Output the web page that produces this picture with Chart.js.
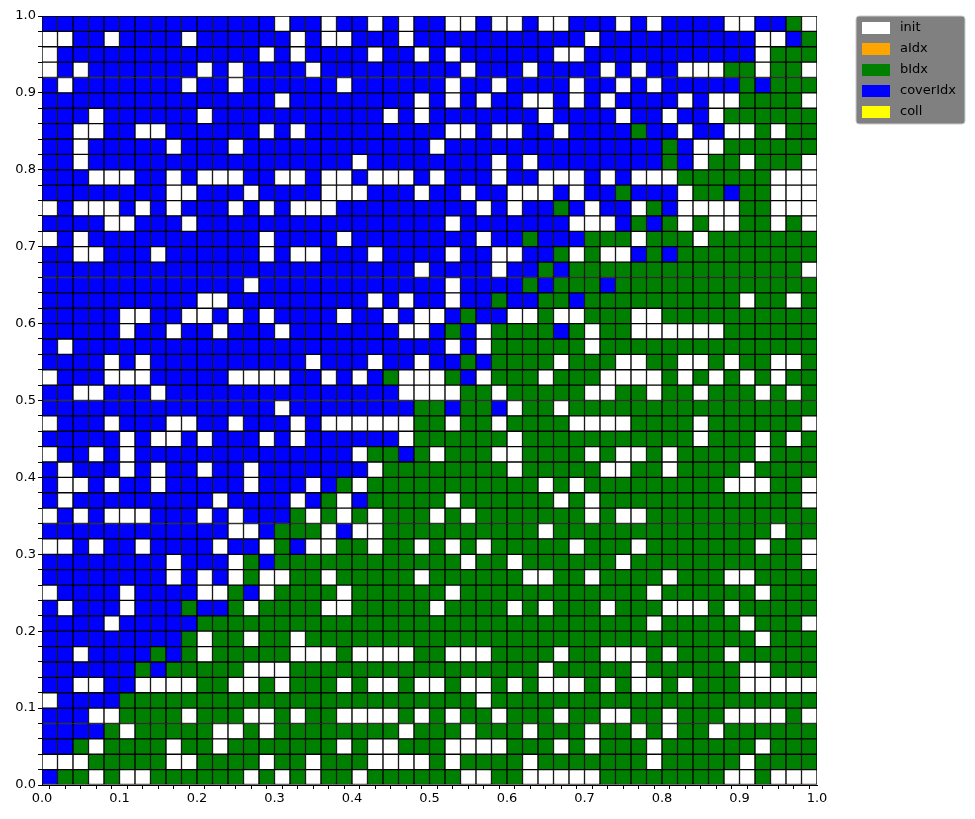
<!DOCTYPE html>
<html><head><meta charset="utf-8">
<script src="https://cdn.jsdelivr.net/npm/chart.js@4"></script>
<style>html,body{margin:0;padding:0;background:#fff}#wrap{width:975px;height:819px}</style>
</head><body><div id="wrap"><canvas id="c" width="975" height="819"></canvas></div>
<script>
// grid rows from top (y=1.0) to bottom (y=0.0); '.'=init, 'b'=coverIdx, 'g'=bIdx
const rows = [
"bbbbbbbbbbbbb"+"bb.bb.bb.b.bb"+"..b..b..bbb."+"b.bbbb..bbg.",
"..bb.bbbb.bbb"+"bbb.b..bbb.bb"+"bbbbbbbbb.bb"+"bbbbbbbb..bg",
".bbbbbbbbbbbb"+"b.b.bbbb.bb.b"+".bbbbbb..bbb"+"bbbbbbbb.ggg",
".b.bbbbbbb.b."+"bbbb.bbbbbbbb"+"b.bbb.bbbb.b"+".bb...gg.gg.",
"b.bbbbbbb.bb."+"bbbbbb.bbbbbb"+".bb.bbbb.bb."+"b.bbbbbgbggg",
"bbbbbbbbbbbbb"+"bb.bbbbbbbb.b"+".b.bb..b.b.b"+"bbb.b..gggg.",
"bbb.bbbbbb.bb"+"bbbbbbbbb.b.b"+"bbbbbb.bbbb."+"bb.bb.gggggg",
"bb..bb..bbbbb"+"b.b.bbbbbbbbb"+"..b..bb.bbbb"+"gbb.bb..g.gg",
"bb.bbbbb.bbb."+"bbbbbbbbbbbb."+"bbbbbbbbbbbb"+"bbgb..gggggg",
"bb.bbbbbbbbbb"+"bbbbbbb.bbbbb"+"bbb.b.bbbbbb"+"bbgb.gg.ggg.",
"bbb...bb.b..."+"bb..b..b...b."+"bbb.bb...b.b"+"...gggggg...",
"bbbbbbbb..bbb"+".bbbb...bbb.b"+"b.bb...b.bbg"+"bbb.ggbgg...",
".b...b.b.bbb."+"b.b...bbbbbbb"+"bb.b.bbgb.bb"+".gb....gg...",
"bbbb..bbb.bbb"+"bbbbbbbbbbbbb"+".bbbbbbb...b"+"gbg.g..gg.g.",
".b.bbbbbbbbbb"+"b.bbbb.bbbbbb"+"bb.bbgbbbggg"+".ggg.ggggggg",
"bb..bbb.bbbbb"+"b.b..bbb.bbbb"+".bb..bbg.g.."+"bgbggggggggg",
"bbbbbbbbbbbbb"+"bbbbbbbbbbb.b"+"bbb.bbgbgggg"+"ggggggggggg.",
"bbbbbbbbbbbbb"+".bbbbbbbbbbbb"+".bbbbgbgggbg"+"gggggggggggg",
"bbbbbbbbbb..b"+"bbbbbbbb.b.bb"+".bbgbbggbggg"+"ggggggg.gg.g",
"bbbbb..bb..b."+"b.bbbb.bb.b.."+"bgbb..g..ggg"+"..gggggggggg",
"bbbbb.bb.bb.b"+"bb.bbbbbbb..b"+"gb.ggggbg.gg"+"......gggggg",
"b.bbbbbbbbbbb"+"bbbbbbbbbbbbb"+".b.gggggg.gg"+"gggggggggggg",
"bbbb.b.bbbbbb"+"bbbb.bbb.bb.b"+"bgbgggg.ggg."+".gg..g.gg..g",
".bbb...bbbbb."+"...bb.b.bg..."+"gb.ggg.ggg.."+"..g.g.g.g.gg",
"bb..bbb.bbbbb"+"bbbbbbbbbb..."+".gg.ggggg..g"+"g.gg.ggg.g.g",
"bbbbbbbbbbbbb"+"bb.bbbbbbbbgg"+"bggb.gg.gggg"+"gggggggggggg",
".bbb.bbb..bb."+"bbb.b......gg"+".gg.gggg...."+"gggg.gggggg.",
"bbbbb.b..b.bb"+"b.b.bbbbbb.gg"+"gggg.ggggggg"+"gggg.ggg.g.g",
".bb.b.bbbbbbb"+"bbbbbbb.ggbg."+"ggg..gggg.g."+".g.ggggg.ggg",
"b.bbb.b.bb.bb"+".bbbbbbb.gggg"+"gggg.ggggg.."+"gg.gggg.gggg",
"b..b.bb.bbbbb"+".bbb.bg.ggggg"+"gggggg.g.ggg"+"gggggg...gg.",
"b.bbbbbbbbb.b"+"bbb.bg.bggggg"+".gggggg.g.gg"+"ggggggggggg.",
".b.b...bbb.b."+"bbbg.g.g.ggg."+"g.ggggggg.g."+".ggggggggggg",
"bbbbbbbbbbbb."+".bggg.b..gggg"+"gggggg.ggggg"+"ggggggggg.gg",
"..b.bb.bbbb.b"+"b.gb..gg.gg.g"+".g.ggggg.ggg"+".ggggggg.gg.",
"bbbbbbbb.bbb."+"gbggggggggggg"+"g.gg.gggggg."+"ggggggggggg.",
"bbbbbbbb.b.b."+"g..gg.ggggg.g"+"ggggg..gg.gg"+"gg.ggg..gggg",
".bbbb.bbbb..g"+"b.gggg.gggggg"+".ggggggggggg"+"g.gggggg.ggg",
"b.bbb.bbbgbbg"+".gggg..ggggg."+"gggg.g.ggg.g"+"gg...g.ggggg",
"bbbb.bbbbbggg"+"ggggggggggggg"+"gggggggggggg"+"g.ggggg.ggg.",
"bbbbbbbbbg.gg"+".gg.ggggggggg"+"gggggggggggg"+"gggggggg.ggg",
"bb.bbbbgbg.gg"+"ggg...g....gg"+"...gggg.gg.."+".g.ggg.ggggg",
"bbbbbbgbggggg"+"...gggggggggg"+"gggggg.ggggg"+".gggggg..ggg",
"bb..bb....gg."+".g.ggg.g..g.."+"g..g.g...g.g"+"..g.ggg.....",
".bbbbgggggggg"+"ggggggggggggg"+"gg.ggggggggg"+"gggggggggggg",
"bbb..gggg.ggg"+"..g.gg....g.g"+".gg.ggg.gg.."+"gg.ggg....g.",
"bbbbg.ggggg.."+"g.gggggggg.gg"+"g.ggg.ggg.gg"+".g.gg.gggggg",
"bbg.gggg.gg.g"+"gggggg.g..ggg"+"....ggg.g.gg"+"g.gggggg.ggg",
"...ggggg..ggg"+"g.gg.ggg....g"+".gggg.gggggg"+"g.ggggg.gggg",
"bgg.g..gggggg"+".g.g.gg.ggggg"+"g..gg.....gg"+"gggggg..g..."
];
const legendLabels = ["init","aIdx","bIdx","coverIdx","coll"];
const legendColors = ["#ffffff","#ffa500","#008000","#0000ff","#ffff00"];
const cellColor = {".":"#ffffff","b":"#0000ff","g":"#008000","a":"#ffa500","c":"#ffff00"};
const N = 50;
const step = 1/N;
const tickLabels = ["0.0","0.1","0.2","0.3","0.4","0.5","0.6","0.7","0.8","0.9","1.0"];

const datasets = [];
for (let r = 0; r < N; r++) {
  const row = rows[N-1-r]; // bottom row first
  datasets.push({
    data: Array.from({length:N},(_,c)=>({x:(c+0.5)*step,y:step})),
    backgroundColor: Array.from({length:N},(_,c)=>cellColor[row[c]]||"#ffffff"),
    borderColor:"#000", borderWidth:1, borderSkipped:false,
    barPercentage:1, categoryPercentage:1, stack:"s"
  });
}
const legendPlugin = {id:"lg", afterDraw(chart){
  const ctx=chart.ctx; ctx.save();
  const x=856,y=16,w=109,h=108;
  ctx.fillStyle="#808080"; ctx.strokeStyle="#cccccc";
  ctx.beginPath(); ctx.roundRect(x,y,w,h,3); ctx.fill(); ctx.stroke();
  ctx.font="13px 'DejaVu Sans'"; ctx.textBaseline="middle";
  legendLabels.forEach((t,i)=>{
    const yy=y+12+i*21;
    ctx.fillStyle=legendColors[i]; ctx.fillRect(862,yy-6,28,12);
    ctx.fillStyle="#000"; ctx.fillText(t,900,yy);
  });
  ctx.restore();
}};
const fmt = v => { const k=Math.round(v*50); return k%5===0 ? tickLabels[k/5] : ""; };
new Chart(document.getElementById("c"),{
  type:"bar",
  data:{datasets},
  options:{
    responsive:false, animation:false, events:[],
    layout:{padding:{left:0,top:16,right:158,bottom:0}},
    plugins:{legend:{display:false},tooltip:{enabled:false}},
    scales:{
      x:{type:"linear",min:0,max:1,offset:false,
         ticks:{stepSize:0.02,autoSkip:false,maxRotation:0,callback:fmt,color:"#000",font:{family:"DejaVu Sans",size:13},padding:2},
         grid:{drawOnChartArea:false,color:"#000",tickLength:4},
         border:{color:"#000"},
         afterFit(s){s.height=34;}},
      y:{stacked:true,min:0,max:1,
         ticks:{stepSize:0.02,autoSkip:false,callback:fmt,color:"#000",font:{family:"DejaVu Sans",size:13},padding:2},
         grid:{drawOnChartArea:false,color:"#000",tickLength:4},
         border:{color:"#000"},
         afterFit(s){s.width=42;}}
    }
  },
  plugins:[legendPlugin]
});
</script></body></html>
